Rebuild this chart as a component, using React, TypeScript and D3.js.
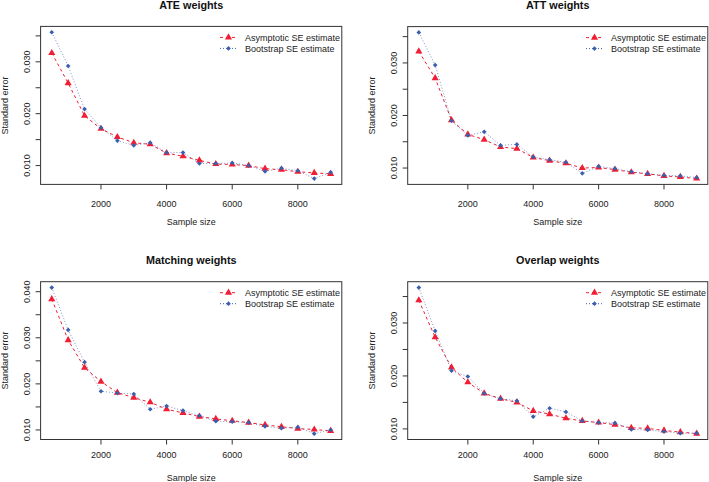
import React, { useEffect, useRef } from 'react';
import * as d3 from 'd3';

const sampleSizes = [500, 1000, 1500, 2000, 2500, 3000, 3500, 4000, 4500, 5000, 5500, 6000, 6500, 7000, 7500, 8000, 8500, 9000];

const ateAsym = [0.0317, 0.0259, 0.0196, 0.0171, 0.0155, 0.0144, 0.0141, 0.0124, 0.0118, 0.0110, 0.0103, 0.0102, 0.0100, 0.0094, 0.0092, 0.0088, 0.0086, 0.0084];
const ateBoot = [0.0357, 0.0292, 0.0209, 0.0173, 0.0148, 0.0139, 0.0144, 0.0125, 0.0125, 0.0104, 0.0104, 0.0105, 0.0100, 0.0089, 0.0095, 0.0090, 0.0075, 0.0087];
const attAsym = [0.0322, 0.0271, 0.0191, 0.0164, 0.0154, 0.0140, 0.0137, 0.0120, 0.0114, 0.0109, 0.0100, 0.0101, 0.0097, 0.0092, 0.0089, 0.0085, 0.0083, 0.0080];
const attBoot = [0.0358, 0.0296, 0.0190, 0.0162, 0.0169, 0.0143, 0.0145, 0.0121, 0.0116, 0.0111, 0.0090, 0.0103, 0.0099, 0.0093, 0.0089, 0.0086, 0.0085, 0.0082];
const matchAsym = [0.0384, 0.0295, 0.0235, 0.0205, 0.0181, 0.0170, 0.0160, 0.0145, 0.0137, 0.0129, 0.0124, 0.0120, 0.0116, 0.0111, 0.0107, 0.0103, 0.0101, 0.0098];
const matchBoot = [0.0409, 0.0317, 0.0247, 0.0184, 0.0180, 0.0178, 0.0145, 0.0152, 0.0142, 0.0131, 0.0119, 0.0118, 0.0116, 0.0108, 0.0104, 0.0106, 0.0092, 0.0100];
const overlapAsym = [0.0343, 0.0273, 0.0216, 0.0188, 0.0167, 0.0157, 0.0150, 0.0134, 0.0128, 0.0120, 0.0115, 0.0112, 0.0108, 0.0102, 0.0101, 0.0097, 0.0094, 0.0091];
const overlapBoot = [0.0367, 0.0285, 0.0210, 0.0199, 0.0167, 0.0157, 0.0153, 0.0123, 0.0139, 0.0132, 0.0115, 0.0112, 0.0111, 0.0099, 0.0098, 0.0095, 0.0092, 0.0092];

const titles = ['ATE weights', 'ATT weights', 'Matching weights', 'Overlap weights'];
const legendLabels = ['Asymptotic SE estimate', 'Bootstrap SE estimate'];
const xLabel = 'Sample size';
const yLabel = 'Standard error';

const RED = '#f21d32';
const BLUE = '#3a5fae';
const INK = '#222';
const FONT = '"Liberation Sans", Arial, Helvetica, sans-serif';

// plot boxes of the 2x2 grid (layout only)
const panels = [
  { title: titles[0], asym: ateAsym, boot: ateBoot, x0: 40.6, x1: 341.8, y0: 26.4, y1: 184.4, titleY: 9, labGap: 19, xlabGap: 37 },
  { title: titles[1], asym: attAsym, boot: attBoot, x0: 407.7, x1: 707.8, y0: 26.6, y1: 184.4, titleY: 9, labGap: 19, xlabGap: 37 },
  { title: titles[2], asym: matchAsym, boot: matchBoot, x0: 40.6, x1: 341.8, y0: 281.7, y1: 439.5, titleY: 263.5, labGap: 15, xlabGap: 38.5 },
  { title: titles[3], asym: overlapAsym, boot: overlapBoot, x0: 407.7, x1: 707.8, y0: 281.7, y1: 439.5, titleY: 263.5, labGap: 15, xlabGap: 38.5 },
];

// R style 4% padding of the data range
const padded = (vals) => {
  const lo = d3.min(vals);
  const hi = d3.max(vals);
  const r = hi - lo;
  return [lo - r * 0.04, hi + r * 0.04];
};

function drawPanel(svg, p) {
  const x = d3.scaleLinear().domain(padded(sampleSizes)).range([p.x0, p.x1]);
  const y = d3.scaleLinear().domain(padded(p.asym.concat(p.boot))).range([p.y1, p.y0]);
  const g = svg.append('g').style('font-family', FONT);

  g.append('rect')
    .attr('x', p.x0).attr('y', p.y0)
    .attr('width', p.x1 - p.x0).attr('height', p.y1 - p.y0)
    .attr('fill', 'none').attr('stroke', '#333').attr('stroke-width', 1);

  // x axis
  const xt = x.ticks(5);
  g.selectAll('.xtick').data(xt).enter().append('line')
    .attr('x1', (d) => x(d)).attr('x2', (d) => x(d))
    .attr('y1', p.y1).attr('y2', p.y1 + 5)
    .attr('stroke', '#333');
  g.selectAll('.xlab').data(xt).enter().append('text')
    .attr('x', (d) => x(d)).attr('y', p.y1 + p.labGap)
    .attr('dy', '0.35em')
    .attr('text-anchor', 'middle')
    .attr('font-size', 9).attr('fill', INK)
    .text((d) => d);
  g.append('text')
    .attr('x', (p.x0 + p.x1) / 2).attr('y', p.y1 + p.xlabGap)
    .attr('dy', '0.35em').attr('text-anchor', 'middle')
    .attr('font-size', 9).attr('fill', INK)
    .text(xLabel);

  // y axis, labels only every 0.01 like R skips overlapping ones
  const yt = y.ticks(6);
  g.selectAll('.ytick').data(yt).enter().append('line')
    .attr('x1', p.x0 - 5).attr('x2', p.x0)
    .attr('y1', (d) => y(d)).attr('y2', (d) => y(d))
    .attr('stroke', '#333');
  g.selectAll('.ylab').data(yt.filter((d) => Math.round(d * 1000) % 10 === 0)).enter().append('text')
    .attr('transform', (d) => `translate(${p.x0 - 14},${y(d)}) rotate(-90)`)
    .attr('dy', '0.35em').attr('text-anchor', 'middle')
    .attr('font-size', 9).attr('fill', INK)
    .text((d) => d3.format('.3f')(d));
  g.append('text')
    .attr('transform', `translate(${p.x0 - 36},${(p.y0 + p.y1) / 2}) rotate(-90)`)
    .attr('dy', '0.35em').attr('text-anchor', 'middle')
    .attr('font-size', 9).attr('fill', INK)
    .text(yLabel);

  // title
  g.append('text')
    .attr('x', (p.x0 + p.x1) / 2).attr('y', p.titleY)
    .attr('text-anchor', 'middle')
    .attr('font-size', 10.8).attr('font-weight', 'bold').attr('fill', '#111')
    .text(p.title);

  const line = d3.line().x((d) => x(d[0])).y((d) => y(d[1]));
  const tri = d3.symbol().type(d3.symbolTriangle).size(22);
  // pch 18 style diamond = square turned 45deg
  const dia = d3.symbol().type(d3.symbolSquare).size(11);

  const asymPts = sampleSizes.map((s, i) => [s, p.asym[i]]);
  const bootPts = sampleSizes.map((s, i) => [s, p.boot[i]]);

  g.append('path').attr('d', line(asymPts))
    .attr('fill', 'none').attr('stroke', RED).attr('stroke-width', 1)
    .attr('stroke-dasharray', '3,3');
  g.selectAll('.tri').data(asymPts).enter().append('path')
    .attr('d', tri)
    .attr('transform', (d) => `translate(${x(d[0])},${y(d[1])})`)
    .attr('fill', RED);

  g.append('path').attr('d', line(bootPts))
    .attr('fill', 'none').attr('stroke', BLUE).attr('stroke-width', 0.9)
    .attr('stroke-dasharray', '1,2').attr('opacity', 0.75);
  g.selectAll('.dia').data(bootPts).enter().append('path')
    .attr('d', dia)
    .attr('transform', (d) => `translate(${x(d[0])},${y(d[1])}) rotate(45)`)
    .attr('fill', BLUE);

  // legend (no box, top right)
  const lx = p.x1 - 96.8;
  const rows = [
    { label: legendLabels[0], color: RED, dash: '3,3', sym: tri, rot: 0, dy: 11 },
    { label: legendLabels[1], color: BLUE, dash: '1,2', sym: dia, rot: 45, dy: 22 },
  ];
  rows.forEach((r) => {
    const ly = p.y0 + r.dy;
    g.append('line')
      .attr('x1', lx - 25).attr('x2', lx - 8)
      .attr('y1', ly).attr('y2', ly)
      .attr('stroke', r.color).attr('stroke-dasharray', r.dash);
    g.append('path').attr('d', r.sym)
      .attr('transform', `translate(${lx - 16.5},${ly}) rotate(${r.rot})`)
      .attr('fill', r.color);
    g.append('text')
      .attr('x', lx).attr('y', ly).attr('dy', '0.35em')
      .attr('font-size', 9).attr('fill', INK)
      .text(r.label);
  });
}

export default function App() {
  const ref = useRef(null);

  useEffect(() => {
    const svg = d3.select(ref.current);
    svg.selectAll('*').remove();
    panels.forEach((p) => drawPanel(svg, p));
  }, []);

  return (
    <svg
      ref={ref}
      width={709}
      height={482}
      style={{ position: 'absolute', left: 0, top: 0, background: '#fff' }}
    />
  );
}
